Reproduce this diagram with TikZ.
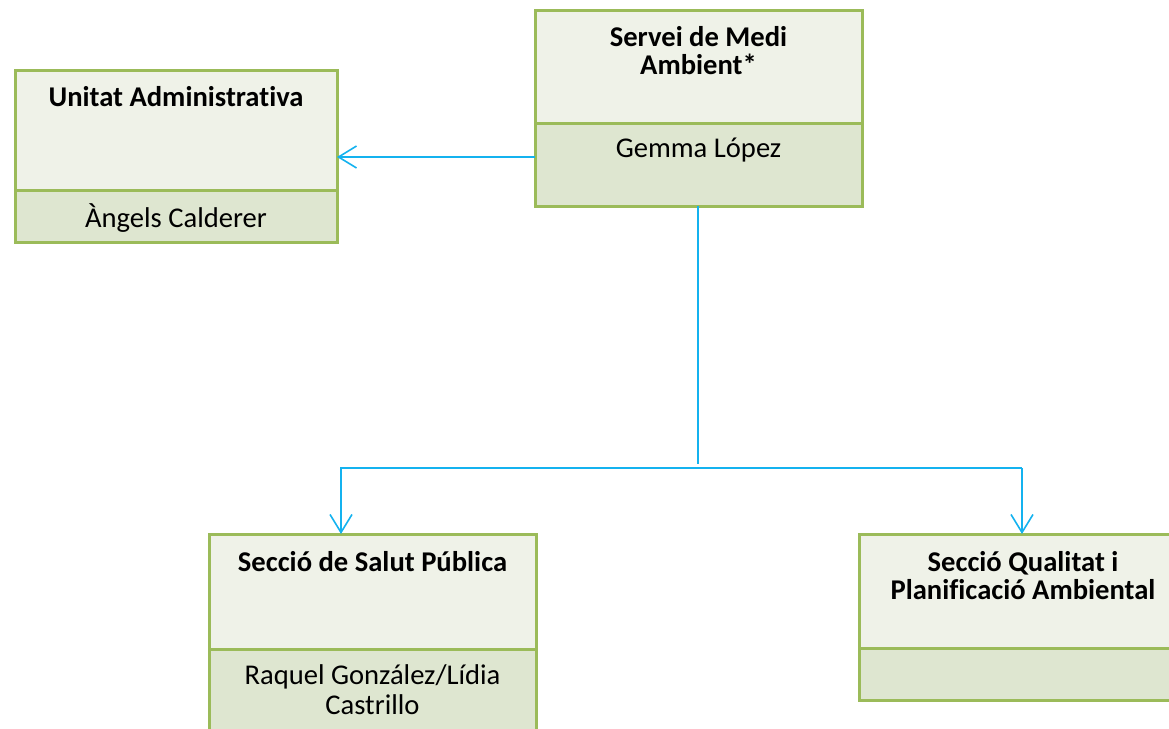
\documentclass[tikz,border=0pt]{standalone}
\usepackage{fontspec}
\setmainfont{Carlito}[Ligatures={NoCommon}]
\usetikzlibrary{arrows.meta}
\definecolor{boxgreen}{HTML}{9BBB59}
\definecolor{fillA}{HTML}{EFF2E8}
\definecolor{fillB}{HTML}{DEE6D0}
\definecolor{connblue}{HTML}{14B2EF}
\begin{document}
\begin{tikzpicture}[x=1pt,y=-1pt,
  part/.style={draw=boxgreen, line width=3pt, anchor=north west, inner sep=0pt, outer sep=0pt},
  headpart/.style={part, fill=fillA},
  namepart/.style={part, fill=fillB},
  title/.style={font=\fontsize{28.6}{28}\selectfont\bfseries, align=center, inner sep=0pt},
  person/.style={font=\fontsize{28.6}{30}\selectfont, align=center, inner sep=0pt},
  conn/.style={draw=connblue, line width=1.6pt},
  tip/.style={-{Straight Barb[length=18pt,width=22pt]}}
]
\useasboundingbox (0,0) rectangle (1169,728);
\clip (0,0) rectangle (1169,728);

% Servei de Medi Ambient
\node[headpart, minimum width=327pt, minimum height=113pt] (servA) at (535,10) {};
\node[namepart, minimum width=327pt, minimum height=83pt] (servB) at (535,123) {};
\node[title] (servT) at (698.5,51) {Servei de Medi\\Ambient*};
\node[person] (servN) at (698.5,150) {Gemma López};

% Unitat Administrativa
\node[headpart, minimum width=322pt, minimum height=120pt] (unitA) at (15,70) {};
\node[namepart, minimum width=322pt, minimum height=52pt] (unitB) at (15,190) {};
\node[title] (unitT) at (176,97) {Unitat Administrativa};
\node[person] (unitN) at (176,218) {Àngels Calderer};

% Secció de Salut Pública
\node[headpart, minimum width=327pt, minimum height=115pt] (salA) at (209,534) {};
\node[namepart, minimum width=327pt, minimum height=115pt] (salB) at (209,649) {};
\node[title] (salT) at (372.5,562) {Secció de Salut Pública};
\node[person] (salN) at (372.5,690) {Raquel González/Lídia\\Castrillo};

% Secció Qualitat i Planificació Ambiental
\node[headpart, minimum width=328pt, minimum height=114pt] (quaA) at (859,534) {};
\node[namepart, minimum width=328pt, minimum height=52pt] (quaB) at (859,648) {};
\node[title] (quaT) at (1023,576) {Secció Qualitat i\\Planificació Ambiental};

% connectors
\coordinate (a1) at (535,157);
\draw[conn,tip] (servB.west |- a1) -- (unitA.east |- a1);

\coordinate (v) at (698,464);
\draw[conn] (servB.south -| v) -- (v);
\coordinate (hl) at (341,468);
\coordinate (hr) at (1022,468);
\draw[conn,tip] (hr) -- (hl) -- (salA.north -| hl);
\draw[conn,tip] (hr) -- (quaA.north -| hr);
\end{tikzpicture}
\end{document}
